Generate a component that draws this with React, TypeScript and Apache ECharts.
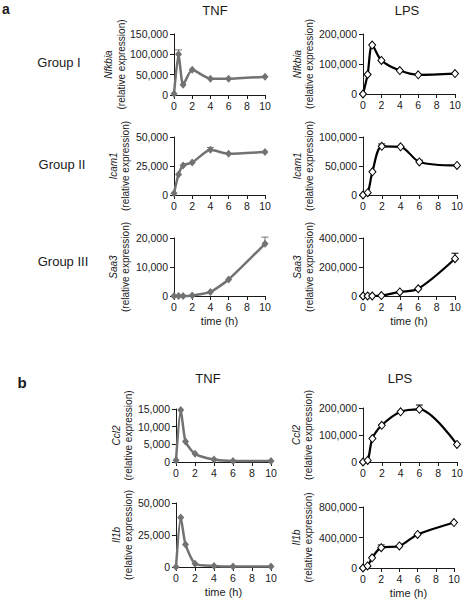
import React, { useEffect, useRef } from "react";
import * as echarts from "echarts";

// time points (h)
const times = [0, 0.5, 1, 2, 4, 6, 10];

// panel a
const nfkbiaTNF = [3000, 100000, 25000, 62000, 40000, 40000, 45000];
const nfkbiaTNFErr = [0, 11000, 0, 0, 0, 0, 0];
const nfkbiaLPS = [0, 65000, 163000, 112000, 78000, 64000, 68000];
const nfkbiaLPSErr = [0, 0, 0, 0, 0, 0, 0];
const icam1TNF = [1500, 17700, 25500, 28000, 39000, 35500, 37000];
const icam1TNFErr = [0, 0, 0, 0, 2000, 0, 0];
const icam1LPS = [0, 4000, 40000, 84000, 83000, 57000, 51000];
const icam1LPSErr = [0, 0, 0, 4000, 0, 3000, 0];
const saa3TNF = [0, 0, 0, 200, 1400, 5700, 18000];
const saa3TNFErr = [0, 0, 0, 0, 0, 0, 2300];
const saa3LPS = [0, 0, 0, 3000, 28000, 50000, 257000];
const saa3LPSErr = [0, 0, 0, 0, 0, 0, 38000];

// panel b
const ccl2TNF = [500, 14700, 5800, 2300, 700, 300, 300];
const ccl2TNFErr = [0, 0, 0, 0, 0, 0, 0];
const ccl2LPS = [0, 6000, 87000, 136000, 186000, 195000, 65000];
const ccl2LPSErr = [0, 0, 0, 0, 0, 16000, 0];
const il1bTNF = [0, 38700, 17600, 2600, 800, 300, 300];
const il1bTNFErr = [0, 0, 0, 0, 0, 0, 0];
const il1bLPS = [0, 27000, 133000, 267000, 289000, 440000, 596000];
const il1bLPSErr = [0, 0, 0, 35000, 0, 0, 0];

// y axis ranges [max, interval]
const yMaxes = [150000, 200000, 50000, 100000, 20000, 400000, 15000, 200000, 50000, 800000];
const ySteps = [50000, 100000, 25000, 50000, 10000, 200000, 5000, 100000, 25000, 400000];
const genes = ["Nfkbia", "Nfkbia", "Icam1", "Icam1", "Saa3", "Saa3", "Ccl2", "Ccl2", "Il1b", "Il1b"];
const stimuli = ["TNF", "LPS", "TNF", "LPS", "TNF", "LPS", "TNF", "LPS", "TNF", "LPS"];
const groupLabels = ["Group I", "Group II", "Group III"];
const columnTitles = ["TNF", "LPS"];

const valueSets = [nfkbiaTNF, nfkbiaLPS, icam1TNF, icam1LPS, saa3TNF, saa3LPS, ccl2TNF, ccl2LPS, il1bTNF, il1bLPS];
const errorSets = [nfkbiaTNFErr, nfkbiaLPSErr, icam1TNFErr, icam1LPSErr, saa3TNFErr, saa3LPSErr, ccl2TNFErr, ccl2LPSErr, il1bTNFErr, il1bLPSErr];

// layout (pixels)
const grids = [
  { left: 174, top: 34, width: 91, height: 61 },
  { left: 363, top: 34, width: 92, height: 60 },
  { left: 174, top: 137, width: 91, height: 58 },
  { left: 363, top: 137, width: 94, height: 58 },
  { left: 174, top: 238, width: 91, height: 58 },
  { left: 363, top: 238, width: 92, height: 58 },
  { left: 176, top: 409, width: 95, height: 53 },
  { left: 363, top: 408, width: 94, height: 54 },
  { left: 176, top: 503, width: 95, height: 64 },
  { left: 363, top: 507, width: 91, height: 61 },
];
const nameGaps = [42, 47, 42, 47, 42, 47, 38, 48, 38, 48];
const showTime = [false, false, false, false, true, true, false, false, true, true];

const FONT = "'Liberation Sans', Arial, sans-serif";
const GREY = "#727272";
const INK = "#1a1a1a";

const fmt = (v: number) => String(v).replace(/\B(?=(\d{3})+(?!\d))/g, ",");

function text(t: string, x: number, y: number, size: number, weight = "normal") {
  return {
    type: "text",
    x,
    y,
    style: {
      text: t,
      fill: INK,
      font: `${weight} ${size}px ${FONT}`,
      align: "center",
      verticalAlign: "middle",
      textAlign: "center",
      textVerticalAlign: "middle",
    },
  };
}

export default function App() {
  const ref = useRef<HTMLDivElement>(null);
  useEffect(() => {
    if (!ref.current) return;
    const chart = echarts.init(ref.current, undefined, { renderer: "svg" });

    const grid = grids.map((g) => ({ ...g, containLabel: false, outerBoundsMode: "none" }));
    const xAxis = grids.map((_, i) => ({
      type: "value",
      gridIndex: i,
      min: 0,
      max: 10,
      interval: 2,
      name: showTime[i] ? "time (h)" : "",
      nameLocation: "middle",
      nameGap: 19,
      nameTextStyle: { fontSize: 11, color: INK, fontFamily: FONT },
      axisLine: { show: true, lineStyle: { color: INK, width: 1 } },
      axisTick: { show: true, length: 4, lineStyle: { color: INK, width: 1 } },
      axisLabel: { fontSize: 10.5, color: INK, margin: 5, fontFamily: FONT },
      splitLine: { show: false },
    }));
    const yAxis = grids.map((_, i) => ({
      type: "value",
      gridIndex: i,
      min: 0,
      max: yMaxes[i],
      interval: ySteps[i],
      name: `{g|${genes[i]}}\n{r|(relative expression)}`,
      nameLocation: "middle",
      nameRotate: 90,
      nameGap: nameGaps[i],
      nameTextStyle: {
        rich: {
          g: { fontSize: 10, fontStyle: "italic", color: INK, fontFamily: FONT, lineHeight: 12.5 },
          r: { fontSize: 10, color: INK, fontFamily: FONT, lineHeight: 12.5 },
        },
      },
      axisLine: { show: true, lineStyle: { color: INK, width: 1 } },
      axisTick: { show: true, length: 4, lineStyle: { color: INK, width: 1 } },
      axisLabel: { fontSize: 10.5, color: INK, margin: 6, fontFamily: FONT, formatter: (v: number) => fmt(v) },
      splitLine: { show: false },
    }));

    const series: any[] = [];
    valueSets.forEach((vals, i) => {
      const isTNF = stimuli[i] === "TNF";
      const color = isTNF ? GREY : "#000";
      series.push({
        type: "line",
        xAxisIndex: i,
        yAxisIndex: i,
        data: times.map((t, k) => [t, vals[k]]),
        smooth: isTNF ? 0.2 : 0.3,
        clip: false,
        symbol: "diamond",
        symbolSize: isTNF ? [7, 8] : [7, 8],
        lineStyle: { color, width: isTNF ? 2.5 : 2.2 },
        itemStyle: isTNF
          ? { color: GREY, borderWidth: 0 }
          : { color: "#fff", borderColor: "#000", borderWidth: 1 },
        z: 3,
      });
      series.push({
        type: "custom",
        xAxisIndex: i,
        yAxisIndex: i,
        data: times.map((t, k) => [t, vals[k], errorSets[i][k]]),
        clip: false,
        z: 2,
        renderItem: (params: any, api: any) => {
          const x = api.value(0);
          const y = api.value(1);
          const e = api.value(2);
          if (!e) return null;
          const p0 = api.coord([x, y]);
          const p1 = api.coord([x, y + e]);
          return {
            type: "group",
            children: [
              { type: "line", shape: { x1: p0[0], y1: p0[1], x2: p1[0], y2: p1[1] }, style: { stroke: color, lineWidth: 1 } },
              { type: "line", shape: { x1: p1[0] - 3.5, y1: p1[1], x2: p1[0] + 3.5, y2: p1[1] }, style: { stroke: color, lineWidth: 1 } },
            ],
          };
        },
      });
    });

    const graphic: any[] = [
      text("a", 6, 9, 14, "bold"),
      text("b", 22, 382, 15, "bold"),
      text(columnTitles[0], 215, 10, 13),
      text(columnTitles[1], 407, 10, 13),
      text(columnTitles[0], 208, 378, 13),
      text(columnTitles[1], 400, 378, 13),
      text(groupLabels[0], 59, 62, 13),
      text(groupLabels[1], 62, 164, 13),
      text(groupLabels[2], 63, 261, 13),
    ];

    chart.setOption({
      animation: false,
      backgroundColor: "#fff",
      grid,
      xAxis,
      yAxis,
      series,
      graphic,
    });
    return () => chart.dispose();
  }, []);

  return (
    <div
      ref={ref}
      style={{ position: "fixed", left: 0, top: 0, width: 464, height: 599, background: "#fff" }}
    />
  );
}
